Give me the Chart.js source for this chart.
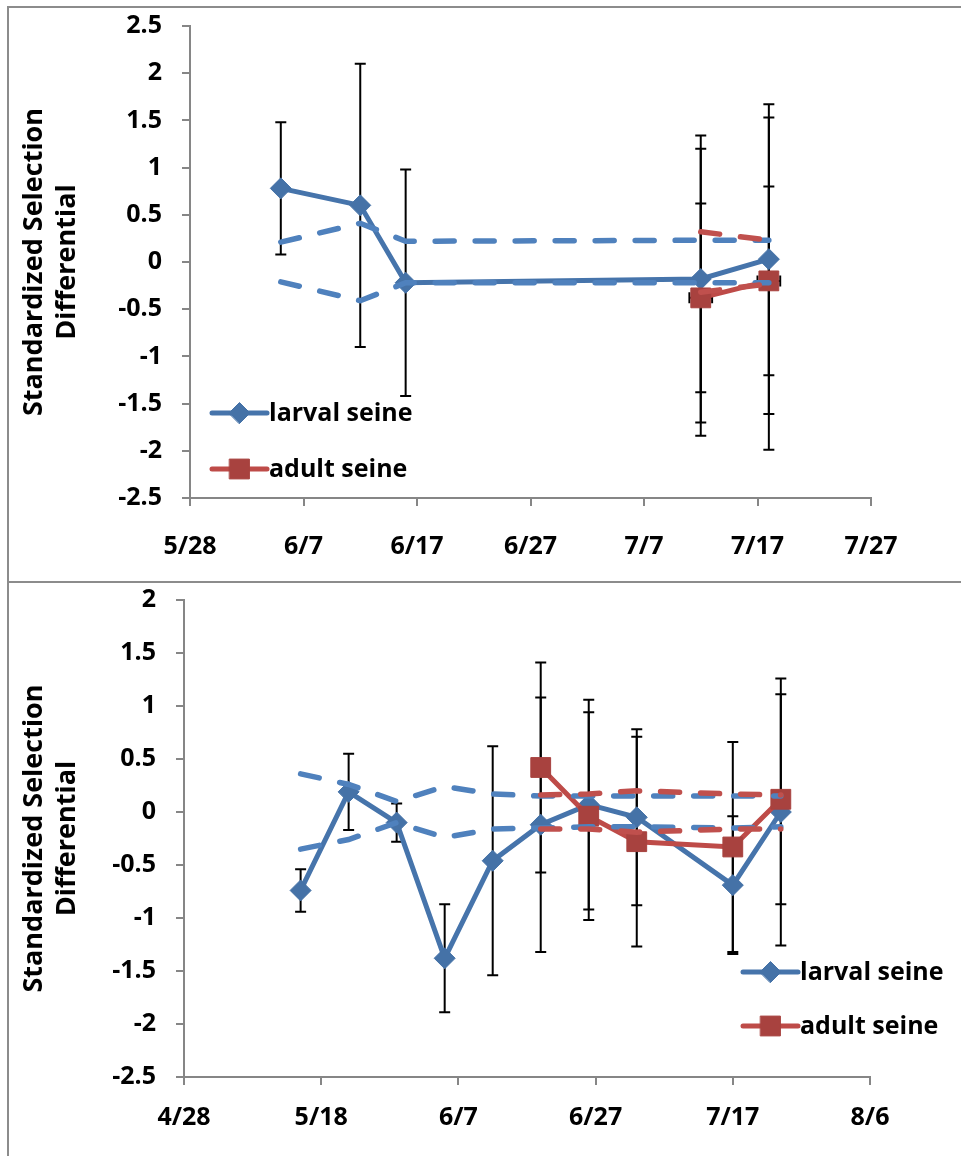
<!DOCTYPE html>
<html>
<head>
<meta charset="utf-8">
<title>Standardized Selection Differential</title>
<script src="https://cdn.jsdelivr.net/npm/chart.js@4.4.1/dist/chart.umd.min.js"></script>
<style>
  body { margin: 0; background: #fff; }
  #page { position: relative; width: 961px; height: 1156px; overflow: hidden; }
  canvas { position: absolute; left: 0; }
  .frame { position: absolute; border-left: 2px solid #8c8c8c; border-top: 2px solid #8c8c8c; }
</style>
</head>
<body>
<div id="page">
  <canvas id="chart-top" width="961" height="578" style="top:0"></canvas>
  <canvas id="chart-bottom" width="961" height="576" style="top:580px"></canvas>
  <div class="frame" style="left:7px; top:6px; width:960px; height:580px"></div>
  <div class="frame" style="left:7px; top:581px; width:960px; height:580px"></div>
</div>
<script>
// --- series names and axis ticks ---
const seriesNames = ["larval seine", "adult seine"];
const yTitle = ["Standardized Selection", "Differential"];

const topXTicks = ["5/28", "6/7", "6/17", "6/27", "7/7", "7/17", "7/27"];
const bottomXTicks = ["4/28", "5/18", "6/7", "6/27", "7/17", "8/6"];

// --- upper chart ---
const topLarvalDates = ["6/5", "6/12", "6/16", "7/12", "7/18"];
const topLarval = [0.78, 0.60, -0.22, -0.18, 0.03];
const topLarvalErr = [0.70, 1.50, 1.20, 1.52, 1.64];
const topLarvalUpper = [0.21, 0.41, 0.22, 0.23, 0.23];
const topLarvalLower = [-0.21, -0.41, -0.22, -0.22, -0.22];

const topAdultDates = ["7/12", "7/18"];
const topAdult = [-0.38, -0.20];
const topAdultErr = [1.00, 1.00];
const topAdultWidePlus = [1.58, 1.73];
const topAdultWideMinus = [1.46, 1.79];
const topAdultDateErr = [1, 1];
const topAdultUpper = [0.32, 0.23];
const topAdultLower = [-0.32, -0.23];

// --- lower chart ---
const bottomLarvalDates = ["5/15", "5/22", "5/29", "6/5", "6/12", "6/19", "6/26", "7/3", "7/17", "7/24"];
const bottomLarval = [-0.74, 0.19, -0.10, -1.38, -0.46, -0.12, 0.07, -0.05, -0.69, 0.00];
const bottomLarvalErr = [0.20, 0.36, 0.18, 0.51, 1.08, 1.20, 0.99, 0.83, 0.65, 1.26];
const bottomLarvalUpper = [0.36, 0.26, 0.10, 0.24, 0.17, 0.15, 0.15, 0.15, 0.15, 0.15];
const bottomLarvalLower = [-0.35, -0.26, -0.10, -0.24, -0.16, -0.15, -0.14, -0.14, -0.15, -0.14];

const bottomAdultDates = ["6/19", "6/26", "7/3", "7/17", "7/24"];
const bottomAdult = [0.42, -0.04, -0.28, -0.33, 0.12];
const bottomAdultErr = [0.99, 0.98, 0.99, 0.99, 0.99];
const bottomAdultUpper = [0.16, 0.17, 0.20, 0.17, 0.16];
const bottomAdultLower = [-0.16, -0.16, -0.19, -0.16, -0.16];

const BLUE_LINE = "#4674ab", BLUE_DASH = "#4f81bd", BLUE_MARK = "#4572a7";
const RED_LINE = "#be4b48", RED_DASH = "#c0504d", RED_MARK = "#a8423f";
const FONT = "'Open Sans', 'Noto Sans', sans-serif";
const FONT_SIZE = 25;

function dayNum(md) {
    const [m, d] = md.split("/").map(Number);
    return Date.UTC(2011, m - 1, d) / 86400000;
}

function points(dates, values) {
    return dates.map((d, i) => ({ x: dayNum(d), y: values[i] }));
}

// Vertical (and optional horizontal) error bars, drawn under the markers
const errorBars = {
    id: "errorBars",
    beforeDatasetsDraw(chart) {
        const ctx = chart.ctx;
        const xs = chart.scales.x, ys = chart.scales.y;
        const cap = 5.5;
        ctx.save();
        ctx.strokeStyle = "#000";
        ctx.lineWidth = 2;
        chart.data.datasets.forEach((ds) => {
            if (!ds.errors && !ds.dateErr) return;
            ds.data.forEach((p, i) => {
                const px = xs.getPixelForValue(p.x);
                (ds.errors || []).forEach((e) => {
                    const top = ys.getPixelForValue(p.y + e.plus[i]);
                    const bot = ys.getPixelForValue(p.y - e.minus[i]);
                    ctx.beginPath();
                    ctx.moveTo(px, top); ctx.lineTo(px, bot);
                    ctx.moveTo(px - cap, top); ctx.lineTo(px + cap, top);
                    ctx.moveTo(px - cap, bot); ctx.lineTo(px + cap, bot);
                    ctx.stroke();
                });
                if (ds.dateErr) {
                    const py = ys.getPixelForValue(p.y);
                    const left = xs.getPixelForValue(p.x - ds.dateErr[i]);
                    const right = xs.getPixelForValue(p.x + ds.dateErr[i]);
                    ctx.beginPath();
                    ctx.moveTo(left, py); ctx.lineTo(right, py);
                    ctx.moveTo(left, py - cap); ctx.lineTo(left, py + cap);
                    ctx.moveTo(right, py - cap); ctx.lineTo(right, py + cap);
                    ctx.stroke();
                }
            });
        });
        ctx.restore();
    }
};

// Legend drawn inside the plot area: short line with the marker, then the name
const seriesKey = {
    id: "seriesKey",
    afterDraw(chart, args, opts) {
        const ctx = chart.ctx;
        ctx.save();
        seriesNames.forEach((name, i) => {
            const ds = chart.data.datasets[i];
            const y = opts.y + i * opts.gap;
            ctx.strokeStyle = ds.borderColor;
            ctx.lineWidth = 5;
            ctx.lineCap = "round";
            ctx.beginPath();
            ctx.moveTo(opts.x, y);
            ctx.lineTo(opts.x + 55, y);
            ctx.stroke();
            ctx.fillStyle = ds.pointBackgroundColor;
            ctx.strokeStyle = ds.pointBorderColor;
            ctx.lineWidth = 1;
            Chart.helpers.drawPoint(ctx, {
                pointStyle: ds.pointStyle,
                radius: ds.pointRadius,
                borderWidth: 1
            }, opts.x + 27.5, y);
            ctx.fillStyle = "#000";
            ctx.font = "bold " + FONT_SIZE + "px " + FONT;
            ctx.textBaseline = "middle";
            ctx.fillText(name, opts.x + 57, y + 1);
        });
        ctx.restore();
    }
};

function solidSet(label, data, line, mark, style, radius, extra) {
    return Object.assign({
        label: label, data: data,
        borderColor: line, borderWidth: 5,
        pointStyle: style, pointRadius: radius,
        pointBackgroundColor: mark, pointBorderColor: mark, pointBorderWidth: 1
    }, extra);
}

function dashSet(data, color, order) {
    return {
        data: data, borderColor: color, borderWidth: 5.5,
        borderDash: [19, 21], borderCapStyle: "round",
        pointRadius: 0, order: order
    };
}

function buildChart(id, cfg) {
    const yTickFmt = (v) => String(Math.round(v * 10) / 10);
    const tickFont = { family: FONT, size: FONT_SIZE, weight: "bold" };
    return new Chart(document.getElementById(id), {
        type: "line",
        data: { datasets: cfg.datasets },
        options: {
            responsive: false,
            devicePixelRatio: 1,
            animation: false,
            events: [],
            layout: { padding: cfg.padding },
            plugins: {
                legend: { display: false },
                tooltip: { enabled: false },
                seriesKey: cfg.key
            },
            scales: {
                x: {
                    type: "linear",
                    min: dayNum(cfg.xTicks[0]),
                    max: dayNum(cfg.xTicks[cfg.xTicks.length - 1]),
                    afterFit: (s) => { s.height = cfg.xHeight; },
                    ticks: {
                        stepSize: cfg.xStep,
                        autoSkip: false, maxRotation: 0,
                        padding: cfg.xPad,
                        color: "#000",
                        font: tickFont,
                        callback: (v, i) => cfg.xTicks[i]
                    },
                    grid: { drawOnChartArea: false, tickLength: 8, color: "#868686", lineWidth: 2 },
                    border: { color: "#868686", width: 2 }
                },
                y: {
                    min: cfg.yMin, max: cfg.yMax,
                    afterFit: (s) => {
                        s.width = cfg.yWidth;
                        s.paddingTop = 0;
                        s.paddingBottom = 0;
                    },
                    ticks: {
                        stepSize: 0.5,
                        autoSkip: false,
                        padding: 20,
                        color: "#000",
                        font: tickFont,
                        callback: yTickFmt
                    },
                    grid: { drawOnChartArea: false, tickLength: 8, color: "#868686", lineWidth: 2 },
                    border: { color: "#868686", width: 2 },
                    title: {
                        display: true,
                        text: yTitle,
                        color: "#000",
                        font: { family: FONT, size: 27, weight: "bold", lineHeight: 1.25 },
                        padding: { top: 17, bottom: 0 }
                    }
                }
            }
        },
        plugins: [errorBars, seriesKey]
    });
}

buildChart("chart-top", {
    xTicks: topXTicks, xStep: 10, xPad: 26, xHeight: 80, yWidth: 190,
    yMin: -2.5, yMax: 2.5,
    padding: { top: 26, right: 90, bottom: 0, left: 0 },
    key: { x: 212, y: 413, gap: 56 },
    datasets: [
        solidSet(seriesNames[0], points(topLarvalDates, topLarval), BLUE_LINE, BLUE_MARK, "rectRot", 10.5,
            { errors: [{ plus: topLarvalErr, minus: topLarvalErr }], order: 3 }),
        solidSet(seriesNames[1], points(topAdultDates, topAdult), RED_LINE, RED_MARK, "rect", 14,
            { errors: [{ plus: topAdultErr, minus: topAdultErr }, { plus: topAdultWidePlus, minus: topAdultWideMinus }],
              dateErr: topAdultDateErr, order: 2 }),
        dashSet(points(topLarvalDates, topLarvalUpper), BLUE_DASH, 1),
        dashSet(points(topLarvalDates, topLarvalLower), BLUE_DASH, 1),
        dashSet(points(topAdultDates, topAdultUpper), RED_DASH, 0),
        dashSet(points(topAdultDates, topAdultLower), RED_DASH, 0)
    ]
});

buildChart("chart-bottom", {
    xTicks: bottomXTicks, xStep: 20, xPad: 18, xHeight: 79, yWidth: 184,
    yMin: -2.5, yMax: 2,
    padding: { top: 20, right: 91, bottom: 0, left: 0 },
    key: { x: 743, y: 392, gap: 54 },
    datasets: [
        solidSet(seriesNames[0], points(bottomLarvalDates, bottomLarval), BLUE_LINE, BLUE_MARK, "rectRot", 10.5,
            { errors: [{ plus: bottomLarvalErr, minus: bottomLarvalErr }], order: 3 }),
        solidSet(seriesNames[1], points(bottomAdultDates, bottomAdult), RED_LINE, RED_MARK, "rect", 14,
            { errors: [{ plus: bottomAdultErr, minus: bottomAdultErr }], order: 2 }),
        dashSet(points(bottomLarvalDates, bottomLarvalUpper), BLUE_DASH, 1),
        dashSet(points(bottomLarvalDates, bottomLarvalLower), BLUE_DASH, 1),
        dashSet(points(bottomAdultDates, bottomAdultUpper), RED_DASH, 0),
        dashSet(points(bottomAdultDates, bottomAdultLower), RED_DASH, 0)
    ]
});
</script>
</body>
</html>
